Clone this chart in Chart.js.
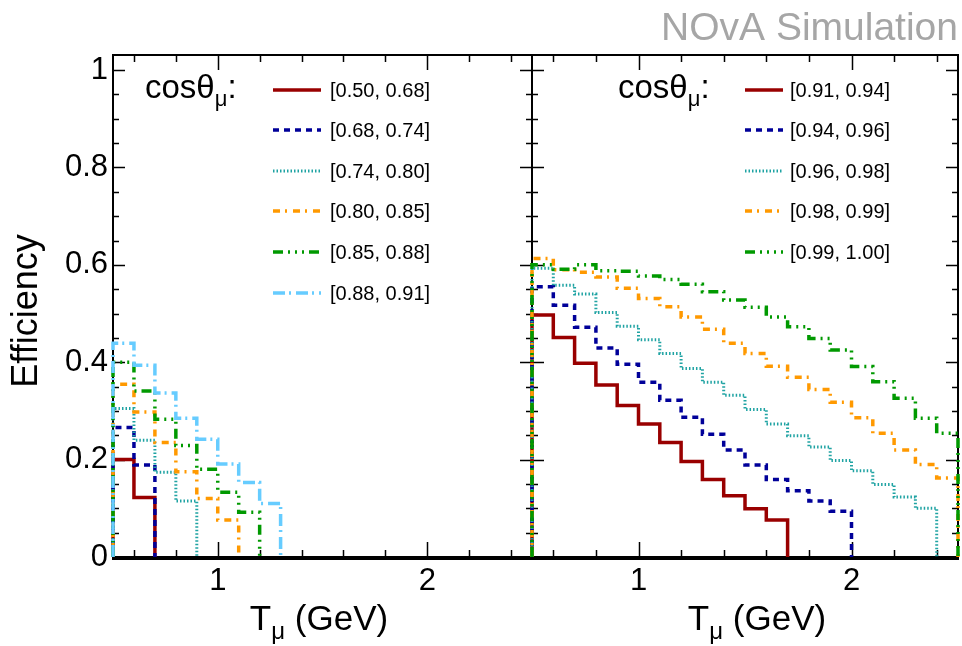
<!DOCTYPE html>
<html>
<head>
<meta charset="utf-8">
<script src="https://cdn.jsdelivr.net/npm/chart.js@4.4.0/dist/chart.umd.min.js"></script>
<style>
  html, body { margin: 0; padding: 0; background: #fff; }
  #wrap { position: relative; width: 962px; height: 646px; overflow: hidden; }
  canvas { position: absolute; top: 0; }
  #leftChart { left: 0; }
  #rightChart { left: 524px; }
</style>
</head>
<body>
<div id="wrap">
  <canvas id="leftChart" width="540" height="646"></canvas>
  <canvas id="rightChart" width="438" height="646"></canvas>
</div>
<script>
// bin edges of T_mu (GeV), 0.1 GeV bins
const binEdges = [0.5, 0.6, 0.7, 0.8, 0.9, 1.0, 1.1, 1.2, 1.3, 1.4, 1.5,
                  1.6, 1.7, 1.8, 1.9, 2.0, 2.1, 2.2, 2.3, 2.4, 2.5];
const xTickLabels = [1, 2];
const yTickLabels = [0, 0.2, 0.4, 0.6, 0.8, 1];

// cos(theta_mu) slices
const leftRanges = ["[0.50, 0.68]", "[0.68, 0.74]", "[0.74, 0.80]",
                    "[0.80, 0.85]", "[0.85, 0.88]", "[0.88, 0.91]"];
const rightRanges = ["[0.91, 0.94]", "[0.94, 0.96]", "[0.96, 0.98]",
                     "[0.98, 0.99]", "[0.99, 1.00]"];

// efficiency per bin, starting at 0.5 GeV (bins after the last value are empty)
const effL1 = [0.200, 0.122];
const effL2 = [0.266, 0.189];
const effL3 = [0.305, 0.240, 0.174, 0.115];
const effL4 = [0.355, 0.298, 0.235, 0.175, 0.120, 0.076];
const effL5 = [0.400, 0.341, 0.283, 0.229, 0.180, 0.133, 0.092];
const effL6 = [0.439, 0.394, 0.337, 0.285, 0.242, 0.191, 0.153, 0.110];

const effR1 = [0.497, 0.451, 0.398, 0.353, 0.311, 0.273, 0.235, 0.196, 0.159, 0.126,
               0.099, 0.076];
const effR2 = [0.555, 0.517, 0.472, 0.429, 0.396, 0.359, 0.322, 0.287, 0.252, 0.220,
               0.189, 0.159, 0.136, 0.115, 0.094];
const effR3 = [0.593, 0.558, 0.540, 0.502, 0.474, 0.446, 0.418, 0.387, 0.359, 0.332,
               0.303, 0.273, 0.249, 0.226, 0.198, 0.177, 0.149, 0.123, 0.100];
const effR4 = [0.613, 0.590, 0.585, 0.575, 0.552, 0.531, 0.514, 0.493, 0.468, 0.439,
               0.418, 0.392, 0.369, 0.344, 0.318, 0.286, 0.254, 0.220, 0.190, 0.162];
const effR5 = [0.600, 0.591, 0.600, 0.588, 0.587, 0.577, 0.570, 0.560, 0.545, 0.528,
               0.513, 0.493, 0.473, 0.449, 0.425, 0.391, 0.360, 0.326, 0.285, 0.254];

// line styles (ROOT-like)
const lineColors = ["#990000", "#000099", "#1fa3a3", "#ff9900", "#009900", "#66ccff"];
const lineWidths = [3.5, 3.5, 3, 3.5, 3.5, 3.5];
const lineDashes = [[], [6, 5], [1.5, 2], [7, 5, 2, 6], [10, 5, 2, 5, 2, 5, 2, 5], [12, 4, 2, 5]];

const FONT = "'Liberation Sans', Arial, Helvetica, sans-serif";
Chart.defaults.font.family = FONT;

// histogram outline: up from 0 at the first edge, steps, down to 0 after the last bin
const histPoints = (vals) => {
  const pts = [{ x: binEdges[0], y: 0 }];
  vals.forEach((v, i) => pts.push({ x: binEdges[i], y: v }));
  pts.push({ x: binEdges[vals.length], y: 0 });
  return pts;
};

const makeDatasets = (effs, ranges) => effs.map((vals, i) => ({
  label: ranges[i],
  data: histPoints(vals),
  borderColor: lineColors[i],
  borderWidth: lineWidths[i],
  borderDash: lineDashes[i],
  stepped: true,
  pointRadius: 0,
  fill: false,
  clip: 6,
  order: effs.length - i,
}));

// draws text with a smaller, lowered "mu" subscript: [pre, sub, post]
const drawSubText = (ctx, parts, x, y, size, align) => {
  const big = `${size}px ${FONT}`;
  const small = `${Math.round(size * 0.68)}px ${FONT}`;
  ctx.font = big;
  const w1 = ctx.measureText(parts[0]).width;
  const w3 = ctx.measureText(parts[2]).width;
  ctx.font = small;
  const w2 = ctx.measureText(parts[1]).width;
  let x0 = x;
  if (align === "center") x0 = x - (w1 + w2 + w3) / 2;
  ctx.textAlign = "left";
  ctx.textBaseline = "alphabetic";
  ctx.font = big;
  ctx.fillText(parts[0], x0, y);
  ctx.font = small;
  ctx.fillText(parts[1], x0 + w1, y + size * 0.25);
  ctx.font = big;
  ctx.fillText(parts[2], x0 + w1 + w2, y);
};

// frame + inward ticks, drawn under the histograms
const framePlugin = {
  id: "frame",
  beforeDatasetsDraw(chart) {
    const { ctx, chartArea: a, scales: { x, y } } = chart;
    ctx.save();
    ctx.strokeStyle = "#000";
    ctx.lineWidth = 2;
    ctx.strokeRect(a.left, a.top, a.right - a.left, a.bottom - a.top);
    ctx.lineWidth = 1.5;
    ctx.beginPath();
    for (let k = 6; k < 25; k += 2) {
      const v = k / 10;
      const px = Math.round(x.getPixelForValue(v)) + 0.5;
      const len = k % 10 === 0 ? 15 : 7;
      ctx.moveTo(px, a.bottom); ctx.lineTo(px, a.bottom - len);
      ctx.moveTo(px, a.top); ctx.lineTo(px, a.top + len);
    }
    for (let k = 1; k <= 20; k++) {
      const v = k / 20;
      const py = Math.round(y.getPixelForValue(v)) + 0.5;
      const len = k % 4 === 0 ? 12 : 6;
      ctx.moveTo(a.left, py); ctx.lineTo(a.left + len, py);
      ctx.moveTo(a.right, py); ctx.lineTo(a.right - len, py);
    }
    ctx.stroke();
    ctx.lineWidth = 4;
    ctx.beginPath();
    ctx.moveTo(a.left - 1, a.bottom + 1);
    ctx.lineTo(a.right + 1, a.bottom + 1);
    ctx.stroke();
    ctx.restore();
  },
};

// legend, axis titles and the NOvA label
const decoPlugin = {
  id: "deco",
  afterDraw(chart, args, o) {
    const ctx = chart.ctx;
    const off = o.offsetX;
    ctx.save();
    ctx.fillStyle = "#000";
    // cos(theta_mu):
    drawSubText(ctx, ["cos\u03b8", "\u03bc", ":"], o.headX - off, 98, 33, "left");
    chart.data.datasets.forEach((ds, i) => {
      const ry = o.rowY[i];
      ctx.strokeStyle = ds.borderColor;
      ctx.lineWidth = ds.borderWidth;
      ctx.setLineDash(ds.borderDash);
      ctx.beginPath();
      ctx.moveTo(o.sampleX[0] - off, ry);
      ctx.lineTo(o.sampleX[1] - off, ry);
      ctx.stroke();
      ctx.setLineDash([]);
      ctx.font = `20px ${FONT}`;
      ctx.textAlign = "left";
      ctx.textBaseline = "middle";
      ctx.fillText(ds.label, o.labelX - off, ry + 1);
    });
    // x title
    drawSubText(ctx, ["T", "\u03bc", " (GeV)"], o.xTitleX - off, 630, 35, "center");
    if (o.yTitle) {
      ctx.save();
      ctx.translate(37, 311);
      ctx.rotate(-Math.PI / 2);
      ctx.font = `36px ${FONT}`;
      ctx.textAlign = "center";
      ctx.textBaseline = "alphabetic";
      ctx.fillText("Efficiency", 0, 0);
      ctx.restore();
    }
    if (o.nova) {
      ctx.font = `39px ${FONT}`;
      ctx.fillStyle = "#a6a6a6";
      ctx.textAlign = "right";
      ctx.textBaseline = "alphabetic";
      ctx.fillText("NOvA Simulation", 958 - off, 40);
    }
    ctx.restore();
  },
};

const xScale = () => ({
  type: "linear",
  min: binEdges[0],
  max: binEdges[binEdges.length - 1],
  grid: { display: false, drawTicks: false },
  border: { display: false },
  afterBuildTicks: (s) => { s.ticks = xTickLabels.map((v) => ({ value: v })); },
  afterFit: (s) => { s.height = 89; },
  ticks: { color: "#000", font: { size: 31 }, padding: 6, maxRotation: 0,
           callback: (v) => String(v) },
});

const yScale = (show) => ({
  type: "linear",
  min: 0,
  max: 1.031,
  display: show,
  grid: { display: false, drawTicks: false },
  border: { display: false },
  afterBuildTicks: (s) => { s.ticks = yTickLabels.map((v) => ({ value: v })); },
  afterFit: (s) => { if (show) s.width = 113; },
  ticks: { color: "#000", font: { size: 31 }, padding: 5,
           callback: (v) => (v === 0 || v === 1 ? String(v) : v.toFixed(1)) },
});

const baseOptions = (show, padding, deco) => ({
  responsive: false,
  maintainAspectRatio: false,
  animation: false,
  devicePixelRatio: 1,
  layout: { padding },
  scales: { x: xScale(), y: yScale(show) },
  plugins: { legend: { display: false }, tooltip: { enabled: false }, deco },
});

new Chart(document.getElementById("leftChart"), {
  type: "line",
  data: { datasets: makeDatasets([effL1, effL2, effL3, effL4, effL5, effL6], leftRanges) },
  options: baseOptions(true, { top: 55, left: 0, right: 8, bottom: 0 }, {
    offsetX: 0, headX: 145, sampleX: [273, 321], labelX: 330,
    rowY: [90, 130, 171, 211, 252, 293], xTitleX: 319, yTitle: true, nova: false,
  }),
  plugins: [framePlugin, decoPlugin],
});

new Chart(document.getElementById("rightChart"), {
  type: "line",
  data: { datasets: makeDatasets([effR1, effR2, effR3, effR4, effR5], rightRanges) },
  options: baseOptions(false, { top: 55, left: 8, right: 4, bottom: 0 }, {
    offsetX: 524, headX: 618, sampleX: [745, 783], labelX: 790,
    rowY: [90, 130, 171, 211, 252], xTitleX: 757, yTitle: false, nova: true,
  }),
  plugins: [framePlugin, decoPlugin],
});
</script>
</body>
</html>
